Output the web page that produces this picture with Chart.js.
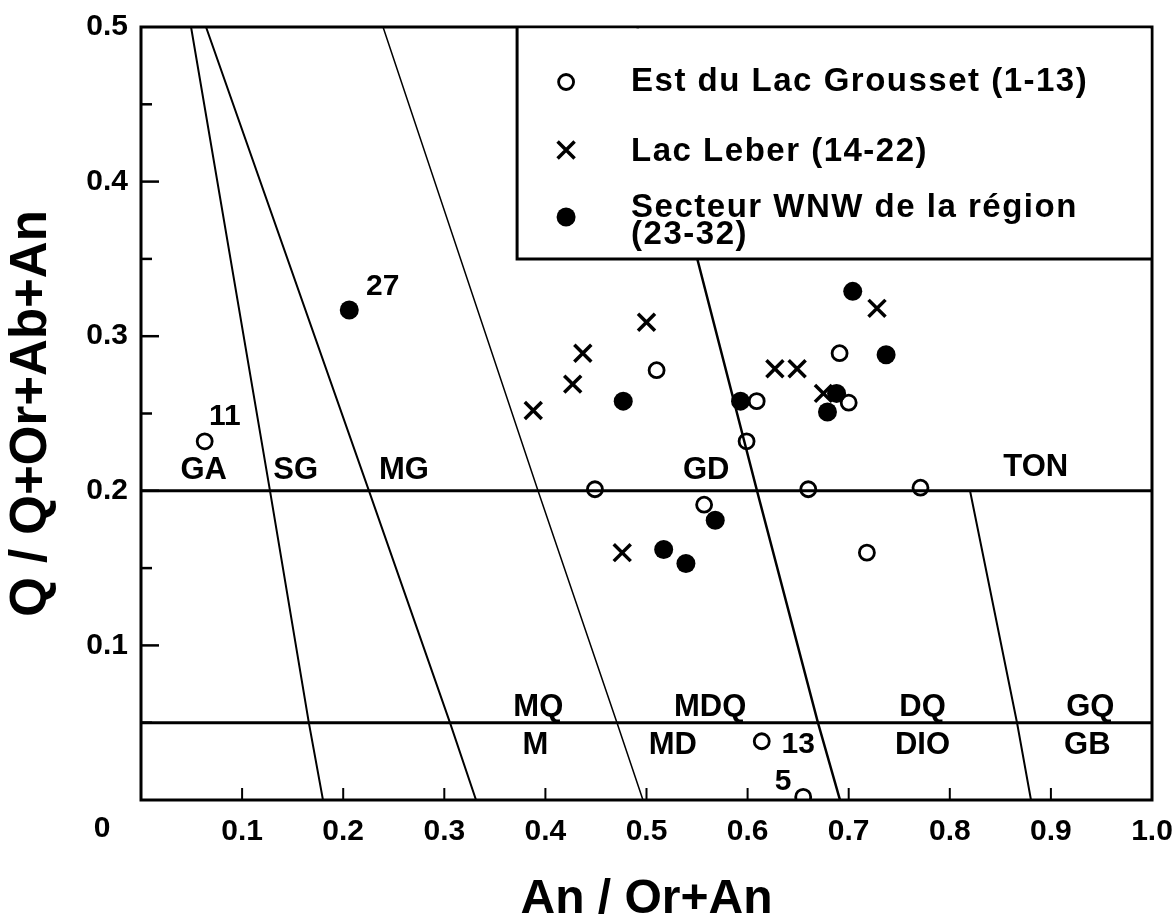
<!DOCTYPE html>
<html>
<head>
<meta charset="utf-8">
<script src="https://cdn.jsdelivr.net/npm/chart.js@4.4.0/dist/chart.umd.min.js"></script>
<style>
  html, body { margin: 0; padding: 0; background: #fff; }
  #wrap { width: 1174px; height: 918px; }
</style>
</head>
<body>
<div id="wrap"><canvas id="qap"></canvas></div>
<script>
// samples, x = An/(Or+An), y = Q/(Q+Or+Ab+An)
const grousset = [
  {x: 0.063, y: 0.232}, {x: 0.510, y: 0.278}, {x: 0.609, y: 0.258},
  {x: 0.691, y: 0.289}, {x: 0.700, y: 0.257}, {x: 0.599, y: 0.232},
  {x: 0.449, y: 0.201}, {x: 0.660, y: 0.201}, {x: 0.771, y: 0.202},
  {x: 0.557, y: 0.191}, {x: 0.718, y: 0.160}, {x: 0.614, y: 0.038},
  {x: 0.655, y: 0.002}
];
const leber = [
  {x: 0.388, y: 0.252}, {x: 0.427, y: 0.269}, {x: 0.437, y: 0.289},
  {x: 0.500, y: 0.309}, {x: 0.627, y: 0.279}, {x: 0.649, y: 0.279},
  {x: 0.675, y: 0.263}, {x: 0.728, y: 0.318}, {x: 0.476, y: 0.160}
];
const wnw = [
  {x: 0.206, y: 0.317}, {x: 0.477, y: 0.258}, {x: 0.593, y: 0.258},
  {x: 0.704, y: 0.329}, {x: 0.737, y: 0.288}, {x: 0.688, y: 0.263},
  {x: 0.679, y: 0.251}, {x: 0.568, y: 0.181}, {x: 0.517, y: 0.162},
  {x: 0.539, y: 0.153}
];

// field boundaries
const line20 = [{x: 0, y: 0.2}, {x: 1, y: 0.2}];
const line05 = [{x: 0, y: 0.05}, {x: 1, y: 0.05}];
const lineGA = [{x: 0.0495, y: 0.5}, {x: 0.1276, y: 0.2}, {x: 0.166, y: 0.05}, {x: 0.180, y: 0}];
const lineSG = [{x: 0.0643, y: 0.5}, {x: 0.2255, y: 0.2}, {x: 0.3056, y: 0.05}, {x: 0.3314, y: 0}];
const lineMG = [{x: 0.2394, y: 0.5}, {x: 0.3927, y: 0.2}, {x: 0.4708, y: 0.05}, {x: 0.4965, y: 0}];
const lineGD = [{x: 0.491, y: 0.5}, {x: 0.550, y: 0.3506}, {x: 0.6093, y: 0.2}, {x: 0.6696, y: 0.05}, {x: 0.6914, y: 0}];
const lineTON = [{x: 0.820, y: 0.2}, {x: 0.8665, y: 0.05}, {x: 0.8803, y: 0}];

const fieldNames = ['GA', 'SG', 'MG', 'GD', 'TON', 'MQ', 'MDQ', 'DQ', 'GQ', 'M', 'MD', 'DIO', 'GB'];
const fieldX = [0.062, 0.153, 0.260, 0.559, 0.885, 0.393, 0.563, 0.773, 0.939, 0.390, 0.526, 0.773, 0.936];
const fieldY = [0.213, 0.213, 0.213, 0.213, 0.215, 0.060, 0.060, 0.060, 0.060, 0.035, 0.035, 0.035, 0.035];

const sampleNames = ['11', '27', '13', '5'];
const sampleX = [0.083, 0.239, 0.650, 0.635];
const sampleY = [0.248, 0.332, 0.036, 0.012];

const legendNames = ['Est du Lac Grousset (1-13)', 'Lac Leber (14-22)', 'Secteur WNW de la région', '(23-32)'];

const FONT = "'Liberation Sans', Arial, Helvetica, sans-serif";
Chart.defaults.font.family = FONT;
Chart.defaults.color = '#000';

function boundary(data, w) {
  return {type: 'line', data: data, borderColor: '#000', borderWidth: w,
          pointRadius: 0, fill: false, tension: 0};
}

function mark(ctx, style, x, y) {
  ctx.beginPath();
  if (style === 'open') {
    ctx.lineWidth = 2.8;
    ctx.arc(x, y, 7.5, 0, Math.PI * 2);
    ctx.stroke();
  } else if (style === 'filled') {
    ctx.arc(x, y, 9.5, 0, Math.PI * 2);
    ctx.fill();
  } else {
    ctx.lineWidth = 3.5;
    ctx.moveTo(x - 8.5, y - 8.5); ctx.lineTo(x + 8.5, y + 8.5);
    ctx.moveTo(x + 8.5, y - 8.5); ctx.lineTo(x - 8.5, y + 8.5);
    ctx.stroke();
  }
}

const decor = {
  id: 'decor',
  afterDatasetsDraw(chart) {
    const {ctx, chartArea: a, scales: {x, y}} = chart;
    ctx.save();
    ctx.strokeStyle = '#000';
    ctx.fillStyle = '#000';

    // inner ticks
    ctx.lineWidth = 2.5;
    for (let i = 1; i < 10; i++) {
      const py = y.getPixelForValue(i * 0.05);
      ctx.beginPath();
      ctx.moveTo(a.left, py);
      ctx.lineTo(a.left + (i % 2 === 0 ? 18 : 11), py);
      ctx.stroke();
    }
    ctx.lineWidth = 2;
    for (let i = 1; i < 10; i++) {
      const px = x.getPixelForValue(i / 10);
      ctx.beginPath();
      ctx.moveTo(px, a.bottom);
      ctx.lineTo(px, a.bottom - 12);
      ctx.stroke();
    }

    // frame
    ctx.lineWidth = 3;
    ctx.strokeRect(a.left, a.top, a.right - a.left, a.bottom - a.top);

    // "0" at the corner
    ctx.font = 'bold 30px ' + FONT;
    ctx.textAlign = 'center';
    ctx.textBaseline = 'top';
    ctx.fillText('0', x.getPixelForValue(0) - 39, a.bottom + 14);

    // legend box
    const lx = x.getPixelForValue(0.372);
    const ly = y.getPixelForValue(0.35);
    ctx.fillStyle = '#fff';
    ctx.fillRect(lx, a.top + 1.5, a.right - lx - 1.5, ly - a.top - 1.5);
    ctx.fillStyle = '#000';
    ctx.lineWidth = 3;
    ctx.beginPath();
    ctx.moveTo(lx, a.top);
    ctx.lineTo(lx, ly);
    ctx.lineTo(a.right, ly);
    ctx.stroke();

    mark(ctx, 'open', lx + 49, a.top + 55);
    mark(ctx, 'cross', lx + 49, a.top + 123);
    mark(ctx, 'filled', lx + 49, a.top + 190);

    ctx.font = 'bold 33px ' + FONT;
    ctx.letterSpacing = '1.5px';
    ctx.textAlign = 'left';
    ctx.textBaseline = 'middle';
    const rows = [55, 125, 181, 208];
    legendNames.forEach((t, i) => ctx.fillText(t, lx + 114, a.top + rows[i]));
    ctx.letterSpacing = '0px';

    // field names
    ctx.font = 'bold 31px ' + FONT;
    ctx.textAlign = 'center';
    fieldNames.forEach((t, i) => {
      ctx.fillText(t, x.getPixelForValue(fieldX[i]), y.getPixelForValue(fieldY[i]));
    });
    ctx.font = 'bold 30px ' + FONT;
    sampleNames.forEach((t, i) => {
      ctx.fillText(t, x.getPixelForValue(sampleX[i]), y.getPixelForValue(sampleY[i]));
    });
    ctx.restore();
  }
};

new Chart(document.getElementById('qap'), {
  type: 'scatter',
  data: {
    datasets: [
      {label: legendNames[0], data: grousset, pointStyle: 'circle', pointRadius: 7.5,
       pointBorderWidth: 2.8, borderColor: '#000', backgroundColor: 'rgba(0,0,0,0)'},
      {label: 'Lac Leber (14-22)', data: leber, pointStyle: 'crossRot', pointRadius: 12,
       pointBorderWidth: 3.5, borderColor: '#000', backgroundColor: '#000'},
      {label: 'Secteur WNW de la région (23-32)', data: wnw, pointStyle: 'circle', pointRadius: 9.5,
       pointBorderWidth: 0, borderColor: '#000', backgroundColor: '#000'},
      boundary(line20, 3),
      boundary(line05, 3),
      boundary(lineGA, 2),
      boundary(lineSG, 2),
      boundary(lineMG, 1.5),
      boundary(lineGD, 2.5),
      boundary(lineTON, 2)
    ]
  },
  options: {
    responsive: true,
    maintainAspectRatio: false,
    animation: false,
    layout: {padding: {top: 27, right: 22, bottom: 0, left: 0}},
    plugins: {legend: {display: false}, tooltip: {enabled: false}},
    scales: {
      x: {
        type: 'linear', min: 0, max: 1,
        grid: {display: false, drawTicks: false},
        border: {display: false},
        ticks: {
          stepSize: 0.1, autoSkip: false, maxRotation: 0, padding: 14,
          font: {size: 30, weight: 'bold'}, color: '#000',
          callback: v => v === 0 ? '' : v.toFixed(1)
        },
        title: {display: true, text: 'An / Or+An', color: '#000', padding: 0,
                font: {size: 48, weight: 'bold', lineHeight: 0.75}},
        afterFit(s) { s.height = 118; s.paddingLeft = 0; s.paddingRight = 0; }
      },
      y: {
        type: 'linear', min: 0, max: 0.5,
        grid: {display: false, drawTicks: false},
        border: {display: false},
        ticks: {
          stepSize: 0.1, padding: 13,
          font: {size: 30, weight: 'bold'}, color: '#000',
          callback: v => v === 0 ? '' : v.toFixed(1)
        },
        title: {display: true, text: 'Q / Q+Or+Ab+An', color: '#000', padding: {top: 1, bottom: 0},
                font: {size: 51, weight: 'bold'}},
        afterFit(s) { s.width = 141; s.paddingTop = 0; s.paddingBottom = 0; }
      }
    }
  },
  plugins: [decor]
});
</script>
</body>
</html>
